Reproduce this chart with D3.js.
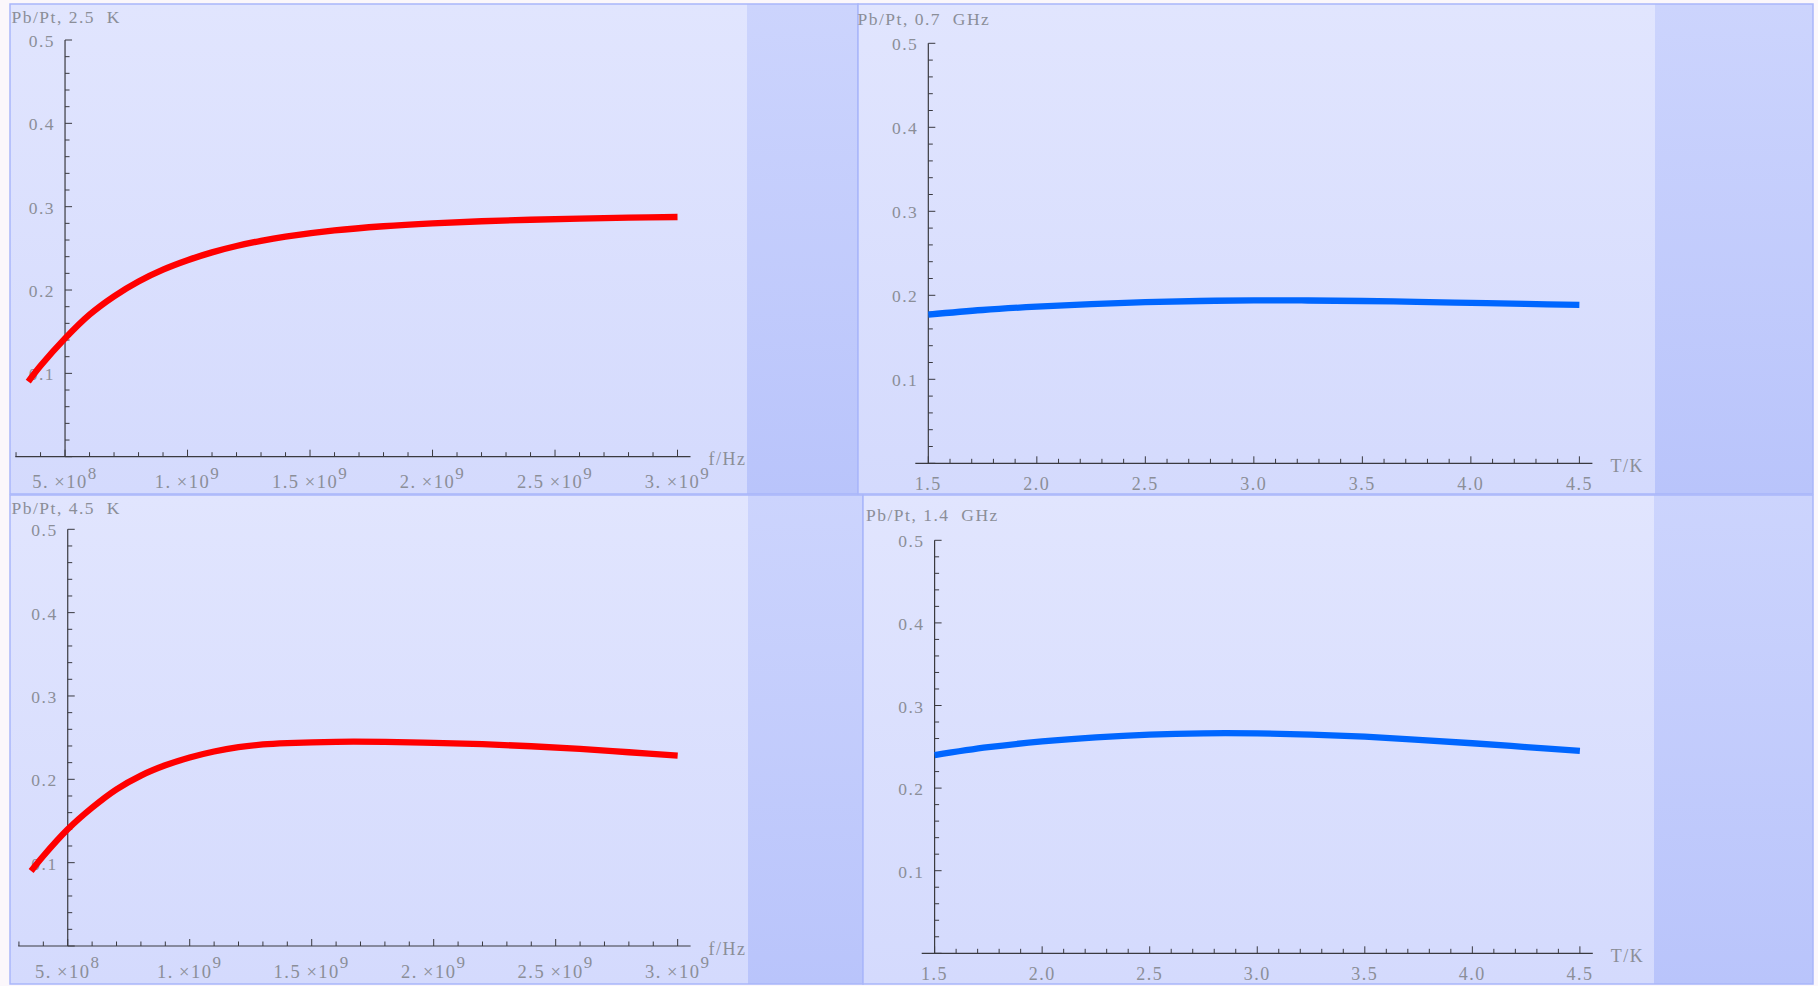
<!DOCTYPE html>
<html>
<head>
<meta charset="utf-8">
<script src="https://cdn.jsdelivr.net/npm/d3@7/dist/d3.min.js"></script>
<style>
  body { margin: 0; background: #fbf7fb; }
  text { font-family: "Liberation Serif", "Times New Roman", serif; fill: #8b8e98; letter-spacing: 1.5px; }
</style>
</head>
<body>
<div id="chart"></div>
<script>
var svgWidth = 1818;
var svgHeight = 986;

// ratio vs frequency, at 2.5 K and 4.5 K
var freqHz = [3.5e8, 4e8, 5e8, 6e8, 7e8, 8e8, 9e8, 1e9, 1.1e9, 1.2e9, 1.3e9, 1.4e9, 1.6e9, 1.8e9, 2.0e9, 2.2e9, 2.4e9, 2.6e9, 2.8e9, 3.0e9];
var ratio25K = [0.090, 0.109, 0.142, 0.1705, 0.1925, 0.2103, 0.2245, 0.2358, 0.2452, 0.2528, 0.2590, 0.2640, 0.2715, 0.2765, 0.2800, 0.2825, 0.2843, 0.2857, 0.2868, 0.2876];
var ratio45K = [0.090, 0.108, 0.140, 0.166, 0.188, 0.2045, 0.2168, 0.2262, 0.2334, 0.2386, 0.2418, 0.2434, 0.2450, 0.2449, 0.2438, 0.2422, 0.2397, 0.2365, 0.2325, 0.2285];

// ratio vs temperature, at 0.7 GHz and 1.4 GHz
var tempK = [1.5, 1.75, 2.0, 2.25, 2.5, 2.75, 3.0, 3.25, 3.5, 3.75, 4.0, 4.25, 4.5];
var ratio07GHz = [0.177, 0.1825, 0.1865, 0.1895, 0.1918, 0.1932, 0.194, 0.1938, 0.1932, 0.1922, 0.191, 0.1898, 0.1885];
var ratio14GHz = [0.240, 0.2495, 0.2565, 0.2615, 0.2648, 0.2663, 0.2662, 0.2648, 0.2622, 0.2585, 0.2543, 0.2497, 0.245];

var freqTicks = [5e8, 1e9, 1.5e9, 2e9, 2.5e9, 3e9];
var tempTicks = [1.5, 2.0, 2.5, 3.0, 3.5, 4.0, 4.5];
var ratioTicks = [0.1, 0.2, 0.3, 0.4, 0.5];

var panels = [
  { title: "Pb/Pt, 2.5  K", xs: freqHz, ys: ratio25K, color: "#ff0000", xLabel: "f/Hz", kind: "f",
    xDomain: [2.97e8, 3.053e9], xRange: [15.3, 690.5], yRange: [456.7, 40],
    cell: [10, 4, 858, 494], lightEnd: 747, titleX: 11.5, titleY: 22.5 },
  { title: "Pb/Pt, 0.7  GHz", xs: tempK, ys: ratio07GHz, color: "#0066ff", xLabel: "T/K", kind: "T",
    xDomain: [1.44, 4.56], xRange: [915.3, 1592.4], yRange: [463.3, 43.3],
    cell: [858, 4, 1813, 494], lightEnd: 1655, titleX: 857.5, titleY: 25 },
  { title: "Pb/Pt, 4.5  K", xs: freqHz, ys: ratio45K, color: "#ff0000", xLabel: "f/Hz", kind: "f",
    xDomain: [2.97e8, 3.053e9], xRange: [18.2, 690.6], yRange: [946, 529.3],
    cell: [10, 495, 863, 984], lightEnd: 748, titleX: 11.5, titleY: 513.5 },
  { title: "Pb/Pt, 1.4  GHz", xs: tempK, ys: ratio14GHz, color: "#0066ff", xLabel: "T/K", kind: "T",
    xDomain: [1.44, 4.56], xRange: [921.7, 1592.8], yRange: [953.3, 540.3],
    cell: [863, 495, 1813, 984], lightEnd: 1654, titleX: 866, titleY: 520.5 }
];

var svg = d3.select("#chart")
  .append("svg")
  .attr("width", svgWidth)
  .attr("height", svgHeight);

var defs = svg.append("defs");
function grad(id, c0, c1) {
  var g = defs.append("linearGradient").attr("id", id)
    .attr("x1", 0).attr("y1", 0).attr("x2", 0).attr("y2", 1);
  g.append("stop").attr("offset", "0%").attr("stop-color", c0);
  g.append("stop").attr("offset", "100%").attr("stop-color", c1);
}
grad("gLight", "#e1e5fe", "#d4dafd");
grad("gDark", "#ccd4fd", "#b9c4fb");

// mantissa like Mathematica: 5. , 1.5 ...
function sciParts(v) {
  var e = Math.floor(Math.log10(v) + 1e-9);
  var m = +(v / Math.pow(10, e)).toFixed(2);
  var ms = Number.isInteger(m) ? m + "." : String(m);
  return [ms, e];
}

panels.forEach(function(p) {
  var g = svg.append("g");
  var c = p.cell;

  // backgrounds
  g.append("rect")
    .attr("x", c[0]).attr("y", c[1])
    .attr("width", c[2] - c[0]).attr("height", c[3] - c[1])
    .attr("fill", "url(#gDark)");
  g.append("rect")
    .attr("x", c[0]).attr("y", c[1])
    .attr("width", p.lightEnd - c[0]).attr("height", c[3] - c[1])
    .attr("fill", "url(#gLight)");
  g.append("rect")
    .attr("x", c[0]).attr("y", c[1])
    .attr("width", c[2] - c[0]).attr("height", c[3] - c[1])
    .attr("fill", "none")
    .attr("stroke", "#a9b6fa")
    .attr("stroke-width", 1.5);

  var x = d3.scaleLinear().domain(p.xDomain).range(p.xRange);
  var y = d3.scaleLinear().domain([0, 0.5]).range(p.yRange);
  var originX = p.kind === "f" ? 5e8 : 1.5;
  var ax = x(originX);
  var ay = y(0);

  var majors = p.kind === "f" ? freqTicks : tempTicks;
  var minorX = p.kind === "f" ? d3.range(3e8, 3.0001e9, 1e8) : d3.range(1.5, 4.5001, 0.1);
  var minorY = d3.range(0, 0.5001, 0.02);
  var axisCol = "#3a3a40";

  function isMajor(v, list) {
    return list.some(function(t) { return Math.abs(t - v) < 1e-6 * Math.abs(t); });
  }

  // x axis
  g.append("line")
    .attr("x1", p.xRange[0]).attr("x2", p.xRange[1])
    .attr("y1", ay).attr("y2", ay)
    .attr("stroke", axisCol).attr("stroke-width", 1.2);
  g.selectAll(".xt").data(minorX).enter().append("line")
    .attr("x1", d => x(d)).attr("x2", d => x(d))
    .attr("y1", ay).attr("y2", d => ay - (isMajor(d, majors) ? 7 : 4.5))
    .attr("stroke", axisCol).attr("stroke-width", 1);

  // y axis
  g.append("line")
    .attr("x1", ax).attr("x2", ax)
    .attr("y1", y(0)).attr("y2", y(0.5))
    .attr("stroke", axisCol).attr("stroke-width", 1.2);
  g.selectAll(".yt").data(minorY).enter().append("line")
    .attr("x1", ax).attr("x2", d => ax + (Math.round(d * 100) % 10 === 0 ? 7 : 4.5))
    .attr("y1", d => y(d)).attr("y2", d => y(d))
    .attr("stroke", axisCol).attr("stroke-width", 1);

  // y tick labels
  g.selectAll(".yl").data(ratioTicks).enter().append("text")
    .attr("x", ax - 10).attr("y", d => y(d) + 7)
    .attr("text-anchor", "end")
    .style("font-size", "17.5px")
    .text(d => d.toFixed(1));

  // x tick labels
  if (p.kind === "f") {
    majors.forEach(function(v) {
      var parts = sciParts(v);
      var t = g.append("text")
        .attr("x", x(v)).attr("y", ay + 31.5)
        .attr("text-anchor", "middle")
        .style("font-size", "18.5px");
      t.append("tspan").text(parts[0] + "\u2009\u00d710");
      t.append("tspan").attr("dy", -9.5).style("font-size", "17px").text(parts[1]);
    });
  } else {
    g.selectAll(".xl").data(majors).enter().append("text")
      .attr("x", d => x(d)).attr("y", ay + 27)
      .attr("text-anchor", "middle")
      .style("font-size", "18px")
      .text(d => d.toFixed(1));
  }

  // axis name and title
  g.append("text")
    .attr("x", p.xRange[1] + 18).attr("y", ay + 8.5)
    .style("font-size", "18px")
    .text(p.xLabel);
  g.append("text")
    .attr("x", p.titleX).attr("y", p.titleY)
    .style("font-size", "17.5px")
    .style("white-space", "pre")
    .text(p.title);

  // curve
  var pts = p.xs.map(function(v, i) { return [v, p.ys[i]]; });
  var line = d3.line()
    .x(d => x(d[0]))
    .y(d => y(d[1]))
    .curve(d3.curveCatmullRom.alpha(0.5));
  g.append("path")
    .attr("d", line(pts))
    .attr("fill", "none")
    .attr("stroke", p.color)
    .attr("stroke-width", 6.3);
});
</script>
</body>
</html>
